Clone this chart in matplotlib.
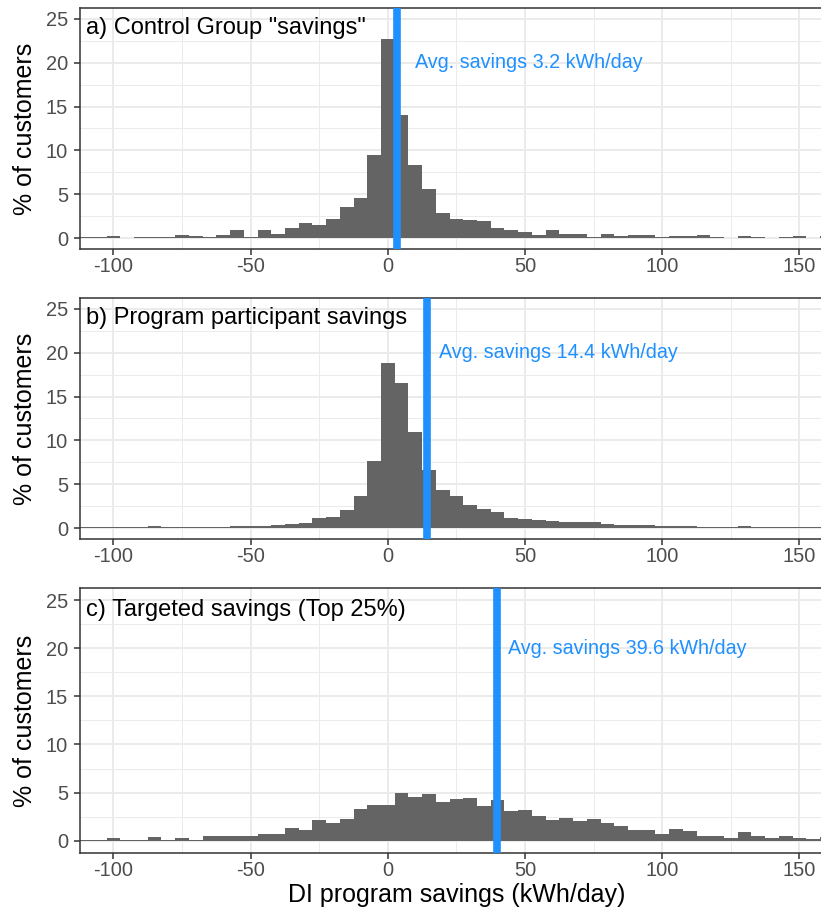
import matplotlib.pyplot as plt

plt.rcParams['font.family'] = ['Liberation Sans', 'DejaVu Sans']
plt.rcParams['axes.unicode_minus'] = False

# histogram bins, 5 kWh/day wide
bin_centers = list(range(-110, 165, 5))

control = [0.08, 0.08, 0.2, 0.0, 0.08, 0.08, 0.08, 0.4, 0.2, 0.1, 0.35,
           0.95, 0.1, 0.95, 0.5, 1.2, 1.75, 1.5, 2.2, 3.5, 4.6, 9.5,
           22.7, 14.0, 8.3, 5.6, 2.9, 2.15, 2.05, 2.0, 1.1, 0.87, 0.65,
           0.3, 0.95, 0.42, 0.42, 0.08, 0.42, 0.2, 0.3, 0.3, 0.12, 0.2,
           0.2, 0.3, 0.08, 0.0, 0.22, 0.12, 0.06, 0.08, 0.27, 0.05, 0.2]

participant = [0.1, 0.1, 0.1, 0.1, 0.1, 0.2, 0.1, 0.1, 0.1, 0.12, 0.15,
               0.2, 0.25, 0.25, 0.35, 0.5, 0.55, 1.2, 1.3, 2.1, 3.65, 7.6,
               18.8, 16.6, 10.9, 6.6, 4.3, 3.6, 2.6, 2.15, 1.85, 1.2, 1.05,
               0.9, 0.8, 0.72, 0.65, 0.65, 0.5, 0.38, 0.3, 0.3, 0.22, 0.27,
               0.27, 0.1, 0.1, 0.08, 0.2, 0.1, 0.08, 0.12, 0.08, 0.08, 0.12]

targeted = [0.08, 0.08, 0.28, 0.05, 0.1, 0.35, 0.07, 0.25, 0.07, 0.5, 0.5,
            0.5, 0.5, 0.7, 0.7, 1.35, 1.1, 2.1, 1.8, 2.3, 3.3, 3.75,
            3.7, 5.0, 4.55, 4.85, 4.0, 4.3, 4.4, 3.65, 4.2, 3.05, 3.15,
            2.55, 2.2, 2.4, 2.0, 2.3, 1.8, 1.5, 1.1, 1.1, 0.7, 1.17,
            1.0, 0.5, 0.5, 0.28, 0.93, 0.5, 0.28, 0.45, 0.28, 0.2, 0.35]

avg_savings = [3.2, 14.4, 39.6]
panel_titles = ['a) Control Group "savings"',
                'b) Program participant savings',
                'c) Targeted savings (Top 25%)']
avg_label_x = [10.0, 18.7, 43.8]

W, H = 821, 913
fig = plt.figure(figsize=(W / 100, H / 100), dpi=100)

# panel boxes in pixels from the top: (top, bottom)
boxes = [(7.9, 249.0), (297.9, 539.0), (588.2, 852.7)]
left_px, width_px = 80, 754.6

series = [control, participant, targeted]
blue = '#1E90FF'

for i, (top, bot) in enumerate(boxes):
    ax = fig.add_axes([left_px / W, 1 - bot / H, width_px / W, (bot - top) / H])
    ax.set_facecolor('white')

    ax.bar(bin_centers, series[i], width=5, color='#646464', linewidth=0, zorder=2)
    ax.axvline(avg_savings[i], color=blue, lw=5.5, zorder=3)

    ax.text(avg_label_x[i], 20, f'Avg. savings {avg_savings[i]} kWh/day',
            color=blue, fontsize=14.2, ha='left', va='center', zorder=4)
    ax.text(-110, 24, panel_titles[i], fontsize=17, ha='left', va='center',
            color='black', zorder=4)

    ax.set_xlim(-112.2, 162.8)
    ax.set_ylim(-1.25, 26.25)
    ax.set_xticks([-100, -50, 0, 50, 100, 150])
    ax.set_xticks([-75, -25, 25, 75, 125], minor=True)
    ax.set_yticks([0, 5, 10, 15, 20, 25])
    ax.set_yticks([2.5, 7.5, 12.5, 17.5, 22.5], minor=True)

    ax.grid(which='major', color='#EBEBEB', lw=1.4, zorder=0)
    ax.grid(which='minor', color='#EBEBEB', lw=0.7, zorder=0)
    ax.set_axisbelow(True)

    for s in ax.spines.values():
        s.set_color('#333333')
        s.set_linewidth(1.1)

    ax.tick_params(which='major', length=4.5, width=1.1, color='#333333',
                   labelsize=14.4, labelcolor='#4D4D4D')
    ax.tick_params(axis='x', pad=1.5)
    ax.tick_params(axis='y', pad=4)
    ax.tick_params(which='minor', length=0)

    ax.set_ylabel('% of customers', fontsize=18)
    ax.yaxis.label.set_verticalalignment('center')
    ax.yaxis.set_label_coords((25 - left_px) / width_px, 0.5)

    if i == 2:
        ax.set_xlabel('DI program savings (kWh/day)', fontsize=18)
        ax.xaxis.set_label_coords(0.499, (bot - 883) / (bot - top))

fig.savefig('out.png', dpi=100, facecolor='white')
